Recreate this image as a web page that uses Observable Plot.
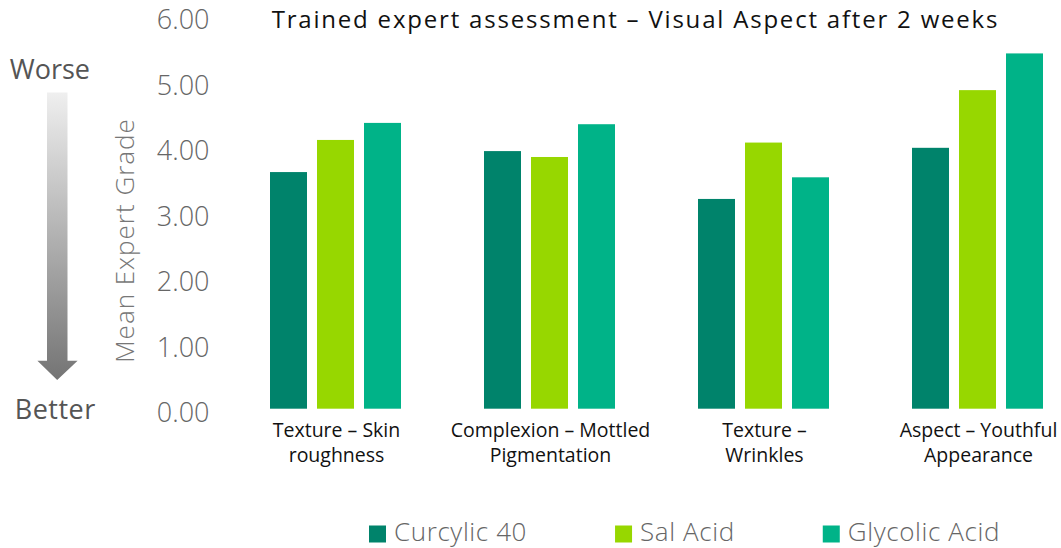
<!DOCTYPE html>
<html><head><meta charset="utf-8">
<script src="https://cdn.jsdelivr.net/npm/d3@7"></script>
<script src="https://cdn.jsdelivr.net/npm/@observablehq/plot@0.6"></script>
<style>
body{margin:0;background:#fff;}
#wrap{position:relative;width:1061px;height:548px;font-family:"Open Sans",sans-serif;overflow:hidden;}
#overlay{position:absolute;left:0;top:0;pointer-events:none;}
#legend{position:absolute;left:0;top:500px;}
</style></head><body><div id="wrap"></div>
<script>
const groups = ["Texture – Skin roughness", "Complexion – Mottled Pigmentation", "Texture – Wrinkles", "Aspect – Youthful Appearance"];
const groupLabels = ["Texture – Skin\nroughness", "Complexion – Mottled\nPigmentation", "Texture –\nWrinkles", "Aspect – Youthful\nAppearance"];
const series = ["Curcylic 40", "Sal Acid", "Glycolic Acid"];
const curcylic = [3.61, 3.93, 3.20, 3.98];
const salAcid = [4.10, 3.84, 4.06, 4.86];
const glycolic = [4.36, 4.34, 3.53, 5.42];
const colors = ["#00836b", "#97d700", "#00b388"];
const yTicks = [0, 1, 2, 3, 4, 5, 6];
const titleText = "Trained expert assessment – Visual Aspect after 2 weeks";
const yLabel = "Mean Expert Grade";

const valuesBySeries = [curcylic, salAcid, glycolic];
const data = [];
groups.forEach((g, i) => series.forEach((s, j) => data.push({group: g, series: s, value: valuesBySeries[j][i]})));
const labelOf = new Map(groups.map((g, i) => [g, groupLabels[i]]));

const W = 1061, H = 500;
const plot = Plot.plot({
  width: W, height: H,
  marginTop: 15.4, marginBottom: 91.3, marginLeft: 269, marginRight: 16,
  style: {fontFamily: '"Open Sans", sans-serif', background: "#fff", overflow: "visible"},
  fx: {domain: groups, paddingInner: 0.382, paddingOuter: 0},
  x: {domain: series, paddingInner: 0.21, paddingOuter: 0, axis: null},
  y: {domain: [0, 6], axis: null},
  color: {domain: series, range: colors},
  marks: [
    Plot.barY(data, {fx: "group", x: "series", y: "value", fill: "series"}),
    Plot.axisY({ticks: yTicks, tickFormat: d => d.toFixed(2), tickSize: 0, tickPadding: 61, fontSize: 27, fontWeight: 300, fill: "#666", dy: 4.5, label: null}),
    Plot.axisFx({anchor: "bottom", tickSize: 0, tickPadding: 10, fontSize: 19.5, lineHeight: 1.28, fill: "#111", label: null, tickFormat: d => labelOf.get(d)})
  ]
});
const wrap = document.getElementById("wrap");
wrap.appendChild(plot);

// overlay: title, y label, Worse/Better arrow
const ov = d3.select(wrap).append("svg").attr("id", "overlay").attr("width", W).attr("height", 500);
const defs = ov.append("defs");
const grad = defs.append("linearGradient").attr("id", "ag").attr("x1", 0).attr("y1", 0).attr("x2", 0).attr("y2", 1);
grad.append("stop").attr("offset", "0%").attr("stop-color", "#efefef");
grad.append("stop").attr("offset", "100%").attr("stop-color", "#747474");
ov.append("text").attr("x", 271.7).attr("y", 28.3).attr("font-family", '"Open Sans", sans-serif').attr("font-size", 24).attr("letter-spacing", 1.8).attr("fill", "#111").text(titleText);
ov.append("text").attr("transform", "translate(133.6,240.5) rotate(-90)").attr("text-anchor", "middle").attr("font-family", '"Open Sans", sans-serif').attr("font-weight", 300).attr("font-size", 26).attr("letter-spacing", 1).attr("fill", "#777").text(yLabel);
ov.append("text").attr("x", 9.8).attr("y", 78.6).attr("font-family", '"Open Sans", sans-serif').attr("font-size", 27).attr("fill", "#555").text("Worse");
ov.append("text").attr("x", 14.7).attr("y", 418.7).attr("font-family", '"Open Sans", sans-serif').attr("font-size", 27).attr("letter-spacing", 0.5).attr("fill", "#555").text("Better");
ov.append("path").attr("d", "M47,92.6 L67.5,92.6 L67.5,360.7 L77.6,360.7 L57.2,380 L37.4,360.7 L47,360.7 Z").attr("fill", "url(#ag)");

// legend (below the plot)
const lg = d3.select(wrap).append("svg").attr("id", "legend").attr("width", W).attr("height", 48);
let lx = 369;
series.forEach((s, i) => {
  lg.append("rect").attr("x", lx).attr("y", 25.5).attr("width", 17).attr("height", 17).attr("fill", colors[i]);
  const t = lg.append("text").attr("x", lx + 25).attr("y", 40.5)
    .attr("font-family", '"Open Sans", sans-serif').attr("font-weight", 300)
    .attr("font-size", 26).attr("letter-spacing", 0.6).attr("fill", "#666").text(s);
  lx += 25 + t.node().getComputedTextLength() + 88;
});
</script></body></html>
